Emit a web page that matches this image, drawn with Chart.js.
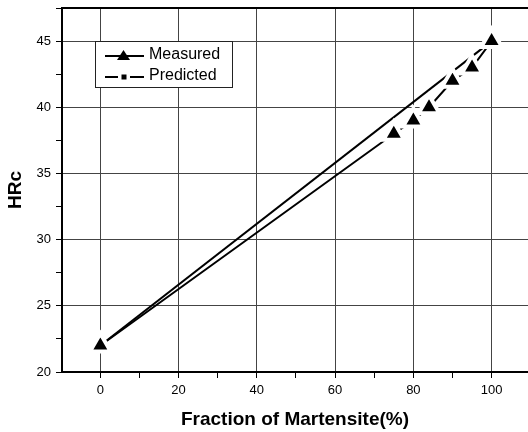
<!DOCTYPE html>
<html>
<head>
<meta charset="utf-8">
<script src="https://cdn.jsdelivr.net/npm/chart.js@4.4.0/dist/chart.umd.min.js"></script>
<style>
    html, body { margin: 0; padding: 0; background: #fff; }
    canvas { display: block; }
</style>
</head>
<body>
<canvas id="mychart" width="528" height="432"></canvas>
<script>
var seriesNames = ['Measured', 'Predicted'];
var measuredX = [0, 75, 80, 84, 90, 95, 100];
var measuredY = [22, 38, 39, 40, 42, 43, 45];
var predictedX = [0, 100];
var predictedY = [22, 45];
var xTickLabels = [0, 20, 40, 60, 80, 100];
var yTickLabels = [20, 25, 30, 35, 40, 45];
var xTitle = 'Fraction of Martensite(%)';
var yTitle = 'HRc';

var fontFamily = "'Liberation Sans', Arial, sans-serif";

function toPoints(xs, ys) {
    return xs.map(function (x, i) { return { x: x, y: ys[i] }; });
}

function isMajor(list, v) {
    return list.indexOf(Math.round(v * 100) / 100) >= 0;
}

// no extra room for the end labels, the plot runs to the canvas edge
function fixBox(scale) {
    if (scale.isHorizontal()) {
        scale.height = 60;
    } else {
        scale.width = 62;
    }
    scale.paddingLeft = 0;
    scale.paddingRight = 0;
    scale.paddingTop = 0;
    scale.paddingBottom = 0;
}

// top frame line + legend box inside the plot
var frameAndLegend = {
    id: 'frameAndLegend',
    afterDraw: function (chart) {
        var ctx = chart.ctx;
        var area = chart.chartArea;
        ctx.save();
        ctx.strokeStyle = '#000';
        ctx.lineWidth = 2;
        ctx.beginPath();
        ctx.moveTo(area.left - 1, area.top);
        ctx.lineTo(area.right, area.top);
        ctx.stroke();

        var bx = 95, by = 41, bw = 137, bh = 46;
        ctx.fillStyle = '#fff';
        ctx.fillRect(bx, by, bw, bh);
        ctx.lineWidth = 1;
        ctx.strokeStyle = '#222';
        ctx.strokeRect(bx + 0.5, by + 0.5, bw, bh);

        ctx.strokeStyle = '#000';
        ctx.fillStyle = '#000';
        ctx.lineWidth = 2;
        // Measured sample
        ctx.beginPath();
        ctx.moveTo(105, 56);
        ctx.lineTo(144, 56);
        ctx.stroke();
        ctx.beginPath();
        ctx.moveTo(123.5, 50);
        ctx.lineTo(130, 60);
        ctx.lineTo(117, 60);
        ctx.closePath();
        ctx.fill();
        // Predicted sample
        ctx.beginPath();
        ctx.moveTo(105, 77);
        ctx.lineTo(118, 77);
        ctx.moveTo(130, 77);
        ctx.lineTo(144, 77);
        ctx.stroke();
        ctx.fillRect(121.5, 74.5, 5, 5);

        ctx.font = '16px ' + fontFamily;
        ctx.textBaseline = 'middle';
        ctx.textAlign = 'left';
        ctx.fillText(chart.data.datasets[0].label, 149, 55);
        ctx.fillText(chart.data.datasets[1].label, 149, 76);
        ctx.restore();
    }
};

var ctx = document.getElementById('mychart').getContext('2d');
var mychart = new Chart(ctx, {
    type: 'line',
    data: {
        datasets: [{
            label: seriesNames[0],
            data: toPoints(measuredX, measuredY),
            borderColor: '#000',
            borderWidth: 2,
            pointStyle: 'triangle',
            pointRadius: 12,
            pointBackgroundColor: '#000',
            pointBorderColor: '#fff',
            pointBorderWidth: 4,
            order: 0
        }, {
            label: seriesNames[1],
            data: toPoints(predictedX, predictedY),
            borderColor: '#000',
            borderWidth: 2,
            pointStyle: 'rect',
            pointRadius: 3,
            pointBackgroundColor: '#000',
            pointBorderWidth: 0,
            order: 1
        }]
    },
    options: {
        responsive: false,
        animation: false,
        layout: { autoPadding: false, padding: { top: 8, left: 0, right: 0, bottom: 0 } },
        plugins: {
            legend: { display: false },
            tooltip: { enabled: false }
        },
        scales: {
            x: {
                type: 'linear',
                min: -9.8,
                max: 109.3,
                afterFit: fixBox,
                ticks: {
                    stepSize: 10,
                    includeBounds: false,
                    autoSkip: false,
                    maxRotation: 0,
                    padding: 5,
                    color: '#000',
                    font: { size: 13, family: fontFamily },
                    callback: function (v) { return isMajor(xTickLabels, v) ? String(v) : ''; }
                },
                grid: {
                    color: function (c) { return c.tick && isMajor(xTickLabels, c.tick.value) ? '#444' : 'rgba(0,0,0,0)'; },
                    tickColor: '#000',
                    tickLength: 6,
                    lineWidth: 1
                },
                border: { color: '#000', width: 2 },
                title: {
                    display: true,
                    text: xTitle,
                    color: '#000',
                    font: { size: 19, weight: 'bold', family: fontFamily },
                    padding: { top: 0, bottom: 1 }
                }
            },
            y: {
                min: 20,
                max: 47.5,
                afterFit: fixBox,
                ticks: {
                    stepSize: 2.5,
                    includeBounds: false,
                    autoSkip: false,
                    padding: 5,
                    color: '#000',
                    font: { size: 13, family: fontFamily },
                    callback: function (v) { return isMajor(yTickLabels, v) ? String(v) : ''; }
                },
                grid: {
                    color: function (c) { return c.tick && isMajor(yTickLabels, c.tick.value) ? '#444' : 'rgba(0,0,0,0)'; },
                    tickColor: '#000',
                    tickLength: 6,
                    lineWidth: 1
                },
                border: { color: '#000', width: 2 },
                title: {
                    display: true,
                    text: yTitle,
                    color: '#000',
                    font: { size: 19, weight: 'bold', family: fontFamily },
                    padding: { top: 4, bottom: 0 }
                }
            }
        }
    },
    plugins: [frameAndLegend]
});
</script>
</body>
</html>
